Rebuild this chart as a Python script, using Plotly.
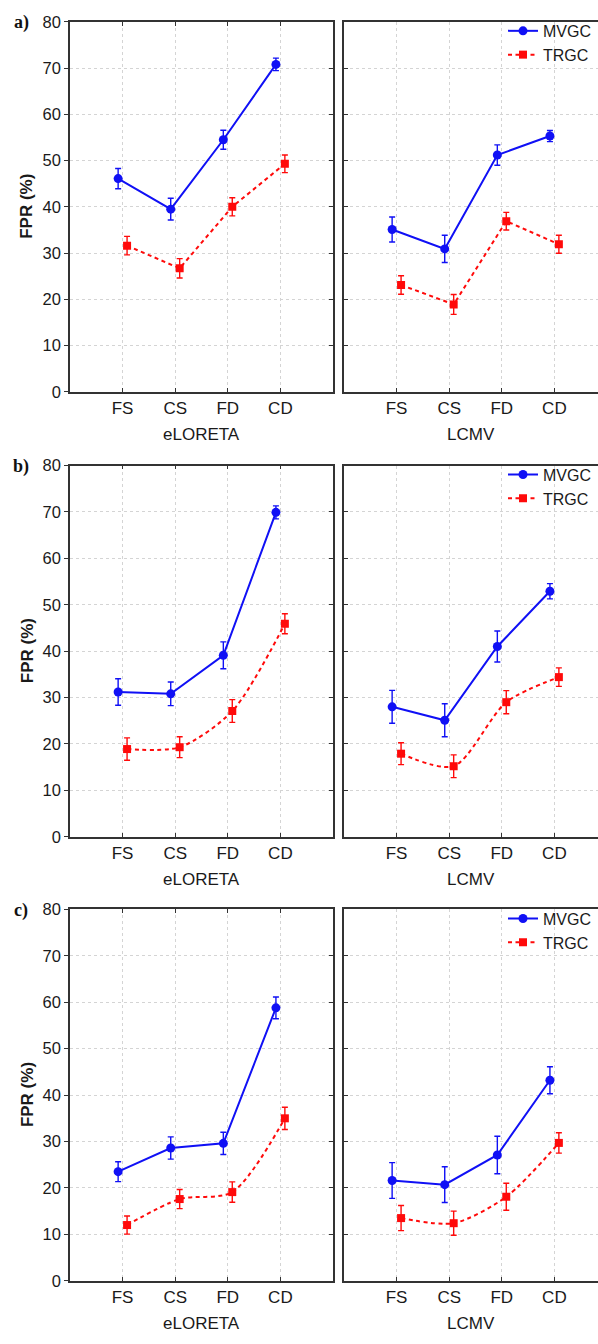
import plotly.graph_objects as go

# Conditions on the x axis
categories = ["FS", "CS", "FD", "CD"]
methods = ["eLORETA", "LCMV"]
panel_labels = ["a)", "b)", "c)"]

# Panel a) — false positive rate (%) and error half-widths
a_eloreta_mvgc = [46.1, 39.5, 54.5, 70.8]
a_eloreta_mvgc_err = [2.2, 2.35, 2.05, 1.35]
a_eloreta_trgc = [31.6, 26.7, 40.0, 49.3]
a_eloreta_trgc_err = [2.0, 2.1, 1.95, 1.9]
a_lcmv_mvgc = [35.1, 30.9, 51.2, 55.3]
a_lcmv_mvgc_err = [2.7, 2.95, 2.2, 1.2]
a_lcmv_trgc = [23.1, 18.9, 36.9, 31.9]
a_lcmv_trgc_err = [2.0, 2.15, 1.9, 1.95]

# Panel b)
b_eloreta_mvgc = [31.2, 30.8, 39.1, 69.9]
b_eloreta_mvgc_err = [2.85, 2.55, 2.9, 1.4]
b_eloreta_trgc = [18.9, 19.3, 27.1, 45.9]
b_eloreta_trgc_err = [2.4, 2.25, 2.45, 2.15]
b_lcmv_mvgc = [28.0, 25.1, 41.0, 52.9]
b_lcmv_mvgc_err = [3.55, 3.55, 3.35, 1.65]
b_lcmv_trgc = [17.9, 15.2, 29.0, 34.4]
b_lcmv_trgc_err = [2.35, 2.45, 2.5, 2.0]

# Panel c)
c_eloreta_mvgc = [23.5, 28.6, 29.6, 58.8]
c_eloreta_mvgc_err = [2.15, 2.4, 2.4, 2.35]
c_eloreta_trgc = [12.0, 17.6, 19.1, 35.0]
c_eloreta_trgc_err = [1.95, 2.05, 2.2, 2.4]
c_lcmv_mvgc = [21.6, 20.7, 27.1, 43.2]
c_lcmv_mvgc_err = [3.85, 3.85, 4.05, 2.9]
c_lcmv_trgc = [13.5, 12.4, 18.1, 29.7]
c_lcmv_trgc_err = [2.7, 2.6, 2.9, 2.2]

panels = [
    [(a_eloreta_mvgc, a_eloreta_mvgc_err, a_eloreta_trgc, a_eloreta_trgc_err),
     (a_lcmv_mvgc, a_lcmv_mvgc_err, a_lcmv_trgc, a_lcmv_trgc_err)],
    [(b_eloreta_mvgc, b_eloreta_mvgc_err, b_eloreta_trgc, b_eloreta_trgc_err),
     (b_lcmv_mvgc, b_lcmv_mvgc_err, b_lcmv_trgc, b_lcmv_trgc_err)],
    [(c_eloreta_mvgc, c_eloreta_mvgc_err, c_eloreta_trgc, c_eloreta_trgc_err),
     (c_lcmv_mvgc, c_lcmv_mvgc_err, c_lcmv_trgc, c_lcmv_trgc_err)],
]

W, H = 598, 1344
BLUE = "#1010f5"
RED = "#ff0a0a"
AXIS = "#333333"
GRID = "#d4d4d4"
TEXT = "#1a1a1a"
FONT = "Liberation Sans, Arial, sans-serif"

# Plot-area geometry in pixels
col_px = [(70, 333), (344, 598)]
row_px = [(13, 388), (462.7, 839), (912.7, 1289)]
x_ranges = [[0, 5], [0, (598 - 344) / 52.6]]
shift = 0.085  # side-by-side offset of the two series at each condition

pos = list(range(1, len(categories) + 1))

fig = go.Figure()
layout = dict(
    width=W, height=H,
    margin=dict(l=0, r=0, t=0, b=0),
    paper_bgcolor="white", plot_bgcolor="white",
    font=dict(family=FONT, size=17, color=TEXT),
    showlegend=True,
)

annotations = []
ax_n = 0
for r, row in enumerate(panels):
    y0 = 1 - row_px[r][1] / H
    y1 = 1 - row_px[r][0] / H
    for c, (mv, mv_e, tr, tr_e) in enumerate(row):
        ax_n += 1
        xa = "x" if ax_n == 1 else f"x{ax_n}"
        ya = "y" if ax_n == 1 else f"y{ax_n}"
        xkey = "xaxis" if ax_n == 1 else f"xaxis{ax_n}"
        ykey = "yaxis" if ax_n == 1 else f"yaxis{ax_n}"
        d0 = col_px[c][0] / W
        d1 = min(col_px[c][1] / W, 1.0)
        legend_id = None
        if c == 1:
            legend_id = "legend" if r == 0 else f"legend{r + 1}"

        smooth = r > 0
        fig.add_trace(go.Scatter(
            x=[p - shift for p in pos], y=mv, xaxis=xa, yaxis=ya,
            mode="lines+markers", name="MVGC",
            line=dict(color=BLUE, width=2),
            marker=dict(symbol="circle", size=9, color=BLUE),
            error_y=dict(type="data", array=mv_e, visible=True,
                         color=BLUE, thickness=1.4, width=3),
            showlegend=legend_id is not None,
            legend=legend_id if legend_id else "legend",
        ))
        fig.add_trace(go.Scatter(
            x=[p + shift for p in pos], y=tr, xaxis=xa, yaxis=ya,
            mode="lines+markers", name="TRGC",
            line=dict(color=RED, width=2, dash="4px,3.5px",
                      shape="spline" if smooth else "linear", smoothing=0.8),
            marker=dict(symbol="square", size=8, color=RED),
            error_y=dict(type="data", array=tr_e, visible=True,
                         color=RED, thickness=1.4, width=3),
            showlegend=legend_id is not None,
            legend=legend_id if legend_id else "legend",
        ))

        layout[xkey] = dict(
            domain=[d0, d1], anchor=ya, range=x_ranges[c],
            tickmode="array", tickvals=pos, ticktext=categories,
            ticks="inside", ticklen=4, tickcolor=AXIS, tickwidth=1,
            showline=True, linecolor=AXIS, linewidth=1.5,
            mirror="ticks" if c == 0 else True,
            showgrid=True, gridcolor=GRID, gridwidth=1, griddash="dot",
            zeroline=False, tickfont=dict(size=17, color=TEXT),
        )
        layout[ykey] = dict(
            domain=[y0, y1], anchor=xa, range=[0, 80], dtick=10,
            ticks="outside" if c == 0 else "inside", ticklen=4,
            tickcolor=AXIS, tickwidth=1,
            showticklabels=(c == 0),
            showline=True, linecolor=AXIS, linewidth=1.5, mirror=False,
            showgrid=True, gridcolor=GRID, gridwidth=1, griddash="dot",
            zeroline=False, tickfont=dict(size=16.5, color=TEXT),
        )

        xmid = (d0 + col_px[c][1] / W) / 2
        annotations.append(dict(
            text=methods[c], xref="paper", yref="paper",
            x=xmid, y=1 - (row_px[r][1] + 43) / H,
            xanchor="center", yanchor="middle", showarrow=False,
            font=dict(size=17, color=TEXT, family=FONT),
        ))
        if legend_id:
            layout[legend_id] = dict(
                x=503 / W, xanchor="left",
                y=1 - (row_px[r][0] - 8) / H, yanchor="top",
                bgcolor="rgba(0,0,0,0)", borderwidth=0,
                font=dict(size=16, color=TEXT, family=FONT),
                itemwidth=30, tracegroupgap=0,
            )

    annotations.append(dict(
        text="<b>FPR (%)</b>", xref="paper", yref="paper",
        x=27 / W, y=(y0 + y1) / 2, textangle=-90,
        xanchor="center", yanchor="middle", showarrow=False,
        font=dict(size=17, color=TEXT, family=FONT),
    ))
    annotations.append(dict(
        text=f"<b>{panel_labels[r]}</b>", xref="paper", yref="paper",
        x=21 / W, y=1 - (row_px[r][0] + 1) / H,
        xanchor="center", yanchor="middle", showarrow=False,
        font=dict(size=18, color="#111111",
                  family="Liberation Serif, Times New Roman, serif"),
    ))

# Inward ticks on the right border of each left-hand panel
for r in range(3):
    left_n = 2 * r + 1
    xa = "x" if left_n == 1 else f"x{left_n}"
    ya = "y" if left_n == 1 else f"y{left_n}"
    key = f"yaxis{7 + r}"
    layout[key] = dict(
        overlaying=ya, anchor=xa, side="right", range=[0, 80], dtick=10,
        ticks="inside", ticklen=4, tickcolor=AXIS, tickwidth=1,
        showticklabels=False, showline=True, linecolor=AXIS, linewidth=1.5,
        showgrid=False, zeroline=False,
    )
    fig.add_trace(go.Scatter(x=[None], y=[None], xaxis=xa, yaxis=f"y{7 + r}",
                             showlegend=False, hoverinfo="skip"))

layout["annotations"] = annotations
fig.update_layout(**layout)
fig.write_html("out.html")
